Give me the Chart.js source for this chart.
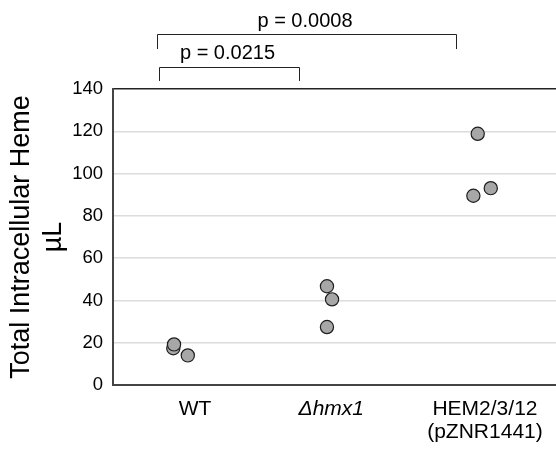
<!DOCTYPE html>
<html>
<head>
<meta charset="utf-8">
<script src="https://cdn.jsdelivr.net/npm/chart.js@4/dist/chart.umd.min.js"></script>
<style>
  html, body { margin: 0; padding: 0; background: #fff; }
  #wrap { width: 556px; height: 450px; position: relative; }
</style>
</head>
<body>
<div id="wrap"><canvas id="c" width="556" height="450"></canvas></div>
<script>
// ---- data ----
const categories = ["WT", "\u0394hmx1\u00a0\u00a0\u00a0", ["HEM2/3/12", "(pZNR1441)"]];
const wtValues   = [17.4, 19.2, 14.0];
const hmx1Values = [46.7, 40.5, 27.4];
const hemValues  = [118.8, 93.1, 89.5];
// horizontal jitter within each category (category units)
const wtJitter   = [-0.150, -0.145, -0.050];
const hmx1Jitter = [-0.090, -0.055, -0.090];
const hemJitter  = [-0.050, 0.040, -0.080];
const yTicks = [0, 20, 40, 60, 80, 100, 120, 140];
const pLabels = ["p = 0.0215", "p = 0.0008"];

const FONT = "'Liberation Sans', Arial, sans-serif";

const groups = [
  [wtValues, wtJitter, 0],
  [hmx1Values, hmx1Jitter, 1],
  [hemValues, hemJitter, 2]
];
const points = [];
groups.forEach(([vals, jit, idx]) => {
  vals.forEach((v, i) => points.push({ x: idx + jit[i], y: v }));
});

// significance brackets: from/to in category units, bar level & label level in y units
const brackets = [
  { from: -0.248, to: 0.717, bar: 150.4, leg: 143.8, text: 156.6, label: pLabels[0] },
  { from: -0.262, to: 1.800, bar: 166.0, leg: 158.9, text: 171.7, label: pLabels[1] }
];

const bracketPlugin = {
  id: 'brackets',
  afterDraw(chart) {
    const { ctx, scales: { x, y } } = chart;
    ctx.save();
    ctx.strokeStyle = '#222';
    ctx.lineWidth = 1;
    ctx.fillStyle = '#000';
    ctx.font = "20px " + FONT;
    ctx.textAlign = 'center';
    ctx.textBaseline = 'middle';
    brackets.forEach(b => {
      const x1 = Math.round(x.getPixelForValue(b.from)) + 0.5;
      const x2 = Math.round(x.getPixelForValue(b.to)) + 0.5;
      const yb = Math.round(y.getPixelForValue(b.bar)) + 0.5;
      const yl = y.getPixelForValue(b.leg);
      ctx.beginPath();
      ctx.moveTo(x1, yl);
      ctx.lineTo(x1, yb);
      ctx.lineTo(x2, yb);
      ctx.lineTo(x2, yl);
      ctx.stroke();
      ctx.fillText(b.label, (x1 + x2) / 2 - 2, y.getPixelForValue(b.text));
    });
    ctx.restore();
  }
};

new Chart(document.getElementById('c'), {
  type: 'scatter',
  data: {
    datasets: [{
      data: points,
      pointRadius: 6.6,
      pointHoverRadius: 6.6,
      backgroundColor: '#a7a7a7',
      borderColor: '#1e1e1e',
      borderWidth: 1.2
    }]
  },
  options: {
    responsive: false,
    animation: false,
    devicePixelRatio: 1,
    layout: { autoPadding: false, padding: { top: 89, left: 0, right: 0, bottom: 0 } },
    plugins: { legend: { display: false }, tooltip: { enabled: false } },
    scales: {
      x: {
        type: 'linear',
        min: -0.566,
        max: 2.49,
        afterBuildTicks: s => { s.ticks = categories.map((_, i) => ({ value: i })); },
        afterFit: s => { s.height = 65; s.paddingLeft = 0; s.paddingRight = 0; },
        grid: { display: false, drawTicks: false },
        border: { display: true, color: '#444', width: 2 },
        ticks: {
          padding: 13,
          color: '#000',
          maxRotation: 0,
          autoSkip: false,
          callback: v => categories[v],
          font: c => ({ family: FONT, size: 21, lineHeight: 1.1, style: c.index === 1 ? 'italic' : 'normal' })
        }
      },
      y: {
        min: 0,
        max: 140,
        afterBuildTicks: s => { s.ticks = yTicks.map(v => ({ value: v })); },
        afterFit: s => { s.width = 113; s.paddingTop = 0; s.paddingBottom = 0; },
        grid: {
          drawTicks: false,
          color: c => (c.tick && c.tick.value === 140) ? '#222' : '#dcdcdc',
          lineWidth: 1.5
        },
        border: { display: true, color: '#444', width: 2 },
        ticks: {
          padding: 10,
          color: '#000',
          font: { family: FONT, size: 18.5 }
        },
        title: {
          display: true,
          text: ['Total Intracellular Heme', '\u00b5L'],
          color: '#000',
          font: { family: FONT, size: 27, lineHeight: 1.18 },
          padding: { top: 6, bottom: 0 }
        }
      }
    }
  },
  plugins: [bracketPlugin]
});
</script>
</body>
</html>
